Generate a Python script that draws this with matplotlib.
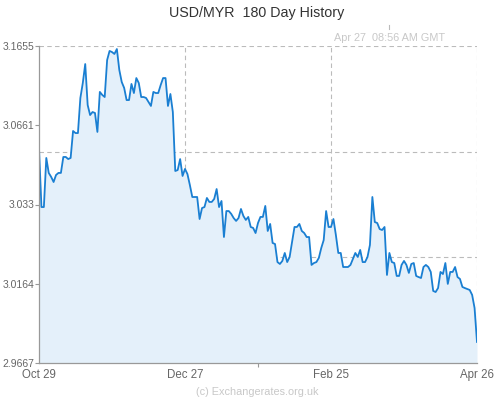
import numpy as np
import matplotlib
matplotlib.use("Agg")
import matplotlib.pyplot as plt
from matplotlib.lines import Line2D

title = "USD/MYR  180 Day History"
timestamp = "Apr 27  08:56 AM GMT"
credit = "(c) Exchangerates.org.uk"
x_labels = ["Oct 29", "Dec 27", "Feb 25", "Apr 26"]
y_labels = ["2.9667", "3.0164", "3.033", "3.0661", "3.1655"]
y_min, y_max = 2.9667, 3.1655
n_days = 179

rates = [
    3.1015, 3.0645, 3.0645, 3.0953, 3.0859, 3.0834, 3.0802, 3.0846, 3.0859, 3.0859,
    3.0959, 3.0959, 3.0946, 3.0953, 3.1122, 3.1109, 3.1109, 3.1329, 3.1423, 3.1542,
    3.1285, 3.1222, 3.1241, 3.1235, 3.1116, 3.1367, 3.1348, 3.1335, 3.1567, 3.1624,
    3.1617, 3.1605, 3.1636, 3.1505, 3.1429, 3.1392, 3.1316, 3.1316, 3.1417, 3.1360,
    3.1454, 3.1423, 3.1335, 3.1335, 3.1329, 3.1304, 3.1279, 3.1367, 3.1360, 3.1360,
    3.1410, 3.1454, 3.1454, 3.1279, 3.1354, 3.1241, 3.0871, 3.0877, 3.0946, 3.0840,
    3.0884,
    3.0852, 3.0783, 3.0708, 3.0708, 3.0708, 3.0570, 3.0639, 3.0645, 3.0702, 3.0677,
    3.0677, 3.0696, 3.0758, 3.0645, 3.0683, 3.0457, 3.0620, 3.0620, 3.0602, 3.0576,
    3.0558, 3.0576, 3.0633, 3.0589, 3.0564, 3.0583, 3.0520, 3.0514, 3.0482, 3.0545,
    3.0583,
    3.0583, 3.0652, 3.0495, 3.0539, 3.0420, 3.0413, 3.0300, 3.0288, 3.0307, 3.0357,
    3.0300, 3.0332, 3.0426, 3.0520, 3.0520, 3.0539, 3.0495, 3.0482, 3.0457, 3.0457,
    3.0282, 3.0294, 3.0300, 3.0326, 3.0388, 3.0438, 3.0620, 3.0520, 3.0520,
    3.0570, 3.0470, 3.0357, 3.0357, 3.0269, 3.0269, 3.0269, 3.0282, 3.0319, 3.0357,
    3.0332, 3.0376, 3.0300, 3.0300, 3.0332, 3.0407, 3.0708, 3.0551, 3.0545, 3.0507,
    3.0501, 3.0520, 3.0219, 3.0357, 3.0300, 3.0294, 3.0213, 3.0213, 3.0282, 3.0307,
    3.0282, 3.0232, 3.0288, 3.0294, 3.0213, 3.0206, 3.0200, 3.0269, 3.0282, 3.0269,
    3.0238, 3.0119, 3.0112, 3.0137, 3.0238, 3.0225, 3.0294, 3.0163, 3.0238, 3.0238,
    3.0269, 3.0206, 3.0194, 3.0144, 3.0137, 3.0131, 3.0125, 3.0094, 3.0012, 2.9799,
]

plt.rcParams['font.family'] = ['Liberation Sans', 'DejaVu Sans']

W, H = 495, 400
fig = plt.figure(figsize=(W / 100, H / 100), dpi=100)
ax = fig.add_axes([39 / W, 37 / H, 438 / W, 317 / H])

days = np.linspace(0, n_days, len(rates))

grid_kw = dict(color='#bbbbbb', lw=0.8, dashes=(4, 3), zorder=0.5)
for k in (1, 2, 3):
    ax.axhline(y_min + (y_max - y_min) * k / 3, **grid_kw)
    ax.axvline(n_days * k / 3, **grid_kw)

ax.fill_between(days, rates, y_min, color='#e4f0fa', lw=0, zorder=1)
ax.plot(days, rates, color='#1a7fd2', lw=1.3, zorder=2, solid_joinstyle='round')

ax.set_xlim(0, n_days)
ax.set_ylim(y_min, y_max)

ax.set_yticks(np.linspace(y_min, y_max, 5))
ax.set_yticklabels(y_labels)
ax.set_xticks(np.linspace(0, n_days, 4))
ax.set_xticklabels(x_labels)
ax.set_xticks([n_days / 2], minor=True)

for s in ('top', 'right'):
    ax.spines[s].set_visible(False)
for s in ('left', 'bottom'):
    ax.spines[s].set_color('#999999')
    ax.spines[s].set_linewidth(0.9)
    ax.spines[s].set_zorder(3)

ax.tick_params(axis='y', length=3, width=0.8, color='#999999', labelsize=7.5,
               labelcolor='#666666', pad=0.3)
ax.tick_params(axis='x', which='major', length=0, labelsize=8.3,
               labelcolor='#666666', pad=4)
ax.tick_params(axis='x', which='minor', length=3, width=0.8, color='#999999')

fig.text(0.519, 0.968, title, ha='center', va='center', fontsize=10.3, color='#333333')
fig.text(0.786, 0.906, timestamp, ha='center', va='center', fontsize=7.8, color='#c8c8c8')
fig.text(0.519, 0.02, credit, ha='center', va='center', fontsize=7.8, color='#c8c8c8')
fig.add_artist(Line2D([389 / W, 389 / W], [1 - 25 / H, 1 - 29 / H], color='#bbbbbb', lw=0.8))

fig.savefig('out.png', dpi=100)
